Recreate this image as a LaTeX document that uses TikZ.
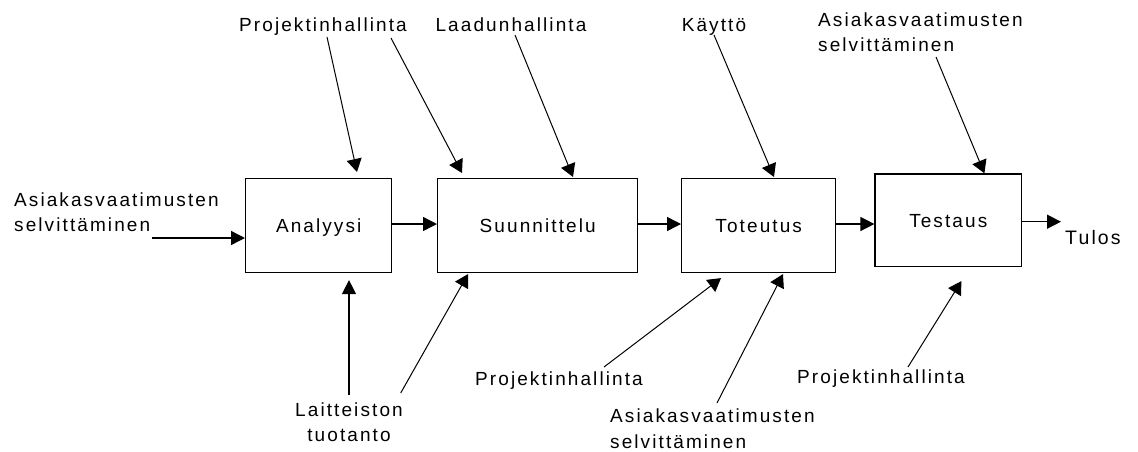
\documentclass[tikz,border=0pt]{standalone}
\usepackage{fontspec}
\setmainfont{Liberation Sans}[LetterSpace=11]
\usetikzlibrary{arrows.meta,calc}
\begin{document}
\begin{tikzpicture}[x=1pt,y=-1pt,
  every node/.style={font=\fontsize{19}{25.5}\selectfont,inner sep=0pt},
  stage/.style={draw,line width=1.4pt,anchor=north west,text height=13.6pt,text depth=0pt},
  lbl/.style={anchor=base,align=center},
  lblw/.style={anchor=base west,align=left},
  flow/.style={line width=1.4pt,-{Triangle[length=14pt,width=14pt]}},
  feed/.style={line width=1pt,-{Triangle[length=13pt,width=15pt]}}]
\useasboundingbox (0,0) rectangle (1138,451);

% process stages
\node[stage,minimum width=146pt,minimum height=93.7pt] (ana) at (245,178) {Analyysi};
\node[stage,minimum width=200pt,minimum height=93.7pt] (suu) at (437,178) {Suunnittelu};
\node[stage,minimum width=154pt,minimum height=93.7pt] (tot) at (681,178) {Toteutus};
\node[stage,minimum width=146.3pt,minimum height=92.4pt] (tes) at (874.4,173.3) {Testaus};

% labels of the inputs and the output (multi-line labels sit on their last line)
\node[lblw] (inL) at (14,231.7) {Asiakasvaatimusten\\selvittäminen};
\node[lbl] (pmA) at (323,31.5) {Projektinhallinta};
\node[lbl] (qm) at (511,31.5) {Laadunhallinta};
\node[lbl] (use) at (714,31.5) {Käyttö};
\node[lblw] (reqT) at (818,51.7) {Asiakasvaatimusten\\selvittäminen};
\node[lbl] (hw) at (349,441.7) {Laitteiston\\tuotanto};
\node[lbl] (pmT) at (559,385) {Projektinhallinta};
\node[lblw] (reqB) at (610,448) {Asiakasvaatimusten\\selvittäminen};
\node[lbl] (pmE) at (881,383.3) {Projektinhallinta};
\node[anchor=base west,font=\fontsize{19.5}{25.5}\selectfont] (out) at (1065,244.3) {Tulos};

% free ends of the connectors
\coordinate (s0) at (152,238);
\coordinate (s1) at (327,37);
\coordinate (s2) at (391,38);
\coordinate (s3) at (515,35);
\coordinate (s4) at (714,35);
\coordinate (s5) at (936,57);
\coordinate (s6) at (349,395);
\coordinate (s7) at (400.7,393);
\coordinate (s8) at (604,367);
\coordinate (s9) at (717,403);
\coordinate (s10) at (908,367);
\coordinate (e11) at (1061,221.7);

% main flow
\draw[flow] (s0) -- (ana.west |- s0);
\draw[flow] ($(ana.north east)+(0,46)$) -- ($(suu.north west)+(0,46)$);
\draw[flow] ($(suu.north east)+(0,46)$) -- ($(tot.north west)+(0,46)$);
\draw[flow] ($(tot.north east)+(0,46)$) -- (tes.west |- {$(tot.north east)+(0,46)$});
\draw[flow] (tes.east |- e11) -- (e11);

% controls from above
\draw[feed] (s1) -- ($(ana.north west)+(112,-6)$);
\draw[feed] (s2) -- ($(suu.north west)+(25,-5)$);
\draw[feed] (s3) -- ($(suu.north west)+(136,-1)$);
\draw[feed] (s4) -- ($(tot.north west)+(93,-1)$);
\draw[feed] (s5) -- ($(tes.north west)+(110,0)$);

% resources from below
\draw[flow] (s6) -- ($(ana.south west)+(104,7)$);
\draw[feed] (s7) -- ($(suu.south west)+(31,1)$);
\draw[feed] (s8) -- ($(tot.south west)+(40,5)$);
\draw[feed] (s9) -- ($(tot.south west)+(102,1)$);
\draw[feed] (s10) -- ($(tes.south west)+(87,14)$);
\end{tikzpicture}
\end{document}
